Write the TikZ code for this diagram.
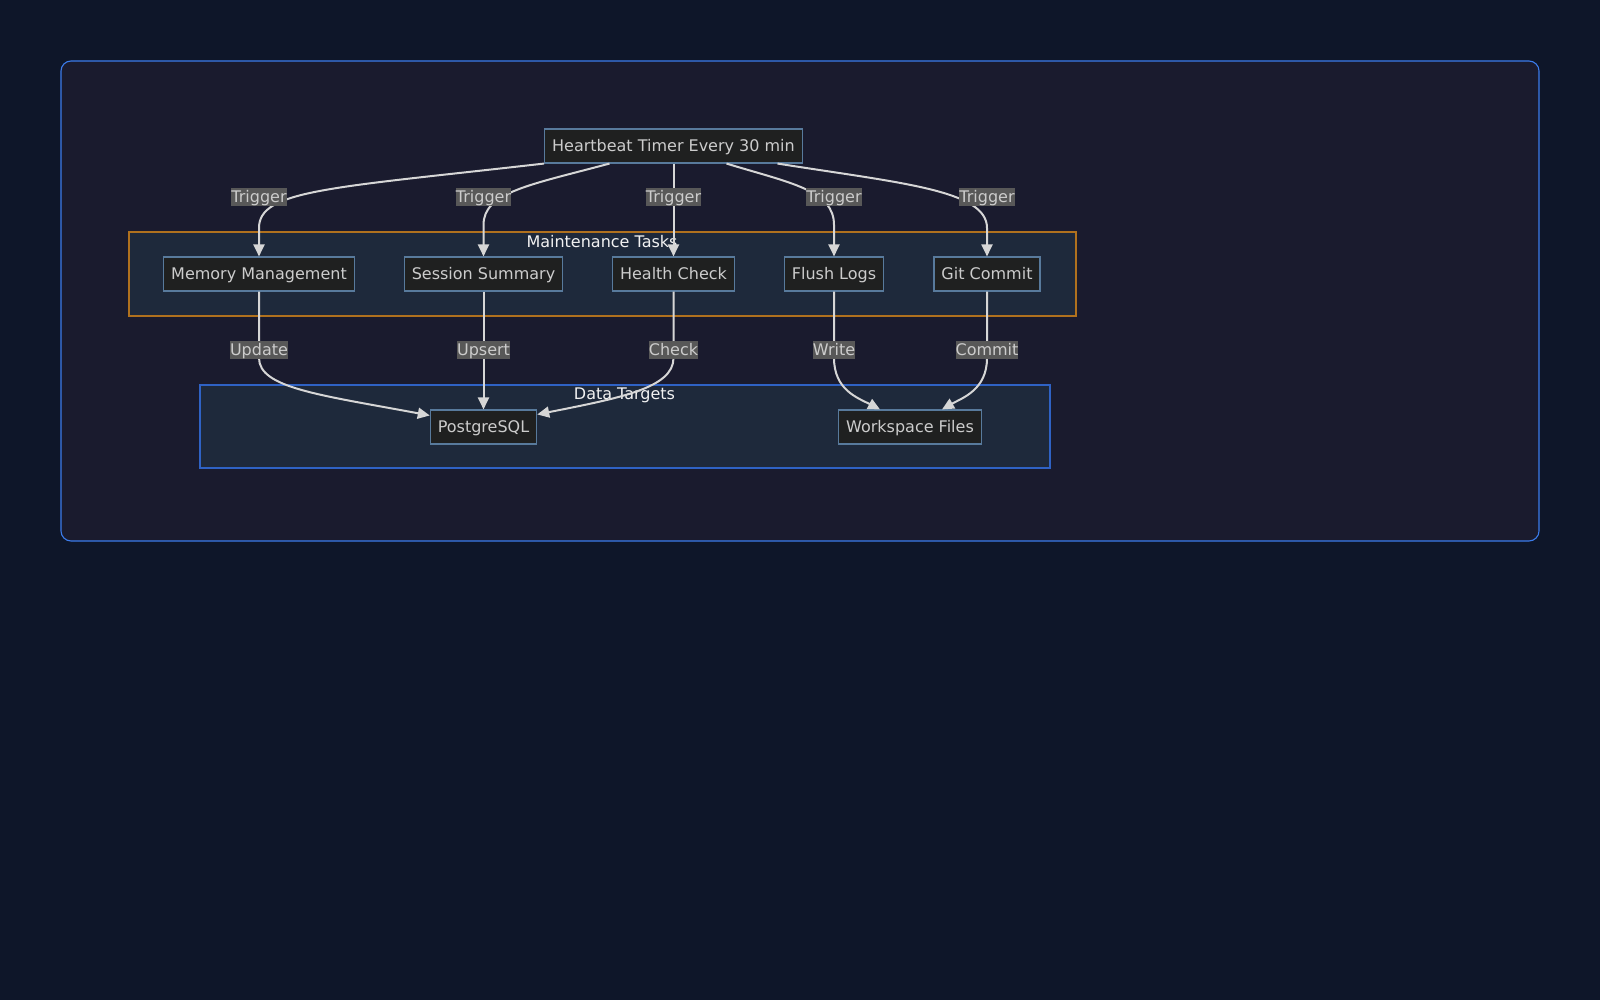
\documentclass[tikz,border=0pt]{standalone}
\usepackage{fontspec}
\setmainfont{DejaVu Sans}
\usepackage{xcolor}
\usetikzlibrary{positioning, arrows.meta}

\definecolor{pagebg}{HTML}{0E1629}
\definecolor{panelbg}{HTML}{1A1B2E}
\definecolor{panelline}{HTML}{3B7BEA}
\definecolor{groupbg}{HTML}{1E293B}
\definecolor{taskline}{HTML}{B0711E}
\definecolor{targetline}{HTML}{2F62C4}
\definecolor{boxbg}{HTML}{1F2020}
\definecolor{boxline}{HTML}{587A9C}
\definecolor{boxtext}{HTML}{CCCCCC}
\definecolor{tagbg}{HTML}{585858}
\definecolor{wire}{HTML}{D6D6D6}

\begin{document}
\begin{tikzpicture}[x=1pt, y=-1pt,
    task/.style   = {draw=boxline, line width=1.1pt, fill=boxbg, text=boxtext,
                     font=\fontsize{16pt}{19pt}\selectfont, minimum height=34pt,
                     text height=11.7pt, text depth=0pt,
                     inner xsep=7.5pt, inner ysep=0pt},
    tag/.style    = {fill=tagbg, text=boxtext, font=\fontsize{16pt}{19pt}\selectfont,
                     text height=14pt, text depth=3.4pt,
                     inner xsep=0pt, inner ysep=0pt, minimum height=18.6pt},
    group/.style  = {line width=1.1pt, fill=groupbg},
    gtitle/.style = {text=white!95!black, font=\fontsize{16pt}{19pt}\selectfont},
    flow/.style   = {-{Triangle[length=12pt, width=11pt]}, draw=wire, line width=2pt},
  ]
    % --- page and panel ---
    \fill[pagebg] (0,0) rectangle (1600,1000);
    \useasboundingbox (0,0) rectangle (1600,1000);
    \draw[panelline, fill=panelbg, line width=1.1pt, rounded corners=10pt]
      (61,61) rectangle (1539,541);

    % --- groups ---
    \draw[group, draw=taskline]   (129,232) rectangle (1076,316);
    \draw[group, draw=targetline] (200,385) rectangle (1050,468);
    \node[gtitle] (tasks)   at (602,242)   {Maintenance Tasks};
    \node[gtitle] (targets) at (624.5,395) {Data Targets};

    % --- timer ---
    \node[task] (hb)  at (673.5,146) {Heartbeat Timer Every 30 min};

    % --- maintenance tasks ---
    \node[task] (mem) at (259,274)   {Memory Management};
    \node[task] (ses) at (483.5,274) {Session Summary};
    \node[task] (hc)  at (673.5,274) {Health Check};
    \node[task] (fl)  at (834,274)   {Flush Logs};
    \node[task] (gc)  at (987,274)   {Git Commit};

    % --- data targets ---
    \node[task] (pg)  at (483.5,427) {PostgreSQL};
    \node[task] (ws)  at (910,427)   {Workspace Files};

    % --- timer triggers every task ---
    \draw[flow] (hb.south west) .. controls (330,188) and (259,190) .. (259,228) -- (mem.north);
    \draw[flow] ([xshift=-64pt]hb.south) .. controls (530,185) and (483.5,192) .. (483.5,225) -- (ses.north);
    \draw[flow] (hb.south) -- (hc.north);
    \draw[flow] ([xshift=53pt]hb.south) .. controls (790,183) and (834,190) .. (834,225) -- (fl.north);
    \draw[flow] ([xshift=104pt]hb.south) .. controls (900,183) and (987,190) .. (987,228) -- (gc.north);

    % --- tasks write to the targets ---
    \draw[flow] (mem.south) -- (259,358) .. controls (259,388) and (320,395) .. ([yshift=-6pt]pg.north west);
    \draw[flow] (ses.south) -- (pg.north);
    \draw[flow] (hc.south) -- (673.5,358) .. controls (673.5,388) and (620,398) .. ([yshift=-5pt]pg.north east);
    \draw[flow] (fl.south) -- (834,358) .. controls (834,390) and (858,398) .. ([xshift=-30pt]ws.north);
    \draw[flow] (gc.south) -- (987,358) .. controls (987,390) and (962,398) .. ([xshift=32pt]ws.north);

    % --- edge labels ---
    \node[tag] (tr1) at (259,197)   {Trigger};
    \node[tag] (tr2) at (483.5,197) {Trigger};
    \node[tag] (tr3) at (673.5,197) {Trigger};
    \node[tag] (tr4) at (834,197)   {Trigger};
    \node[tag] (tr5) at (987,197)   {Trigger};
    \node[tag] (up)  at (259,350)   {Update};
    \node[tag] (us)  at (483.5,350) {Upsert};
    \node[tag] (ck)  at (673.5,350) {Check};
    \node[tag] (wr)  at (834,350)   {Write};
    \node[tag] (cm)  at (987,350)   {Commit};
  \end{tikzpicture}
\end{document}
